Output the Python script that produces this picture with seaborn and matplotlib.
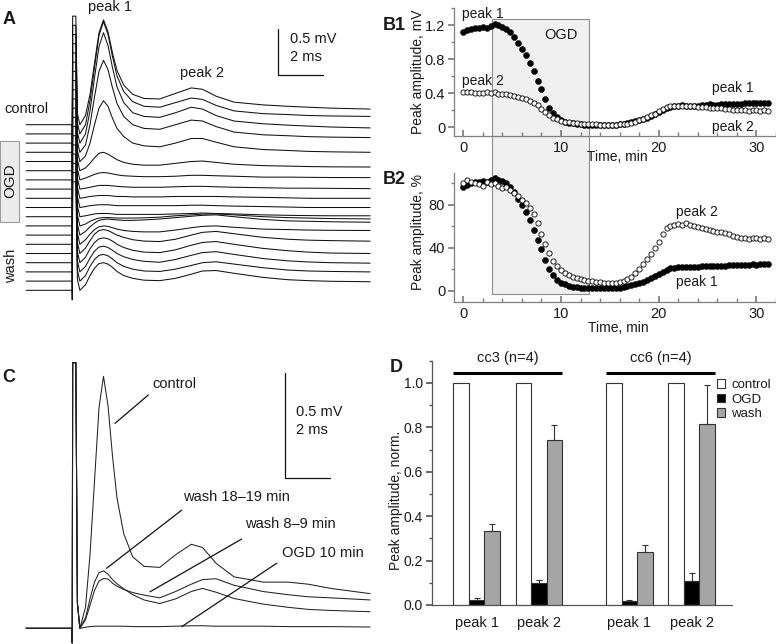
import numpy as np
import pandas as pd
import matplotlib
matplotlib.use('Agg')
import matplotlib.pyplot as plt
from matplotlib.patches import Rectangle, Patch
from matplotlib.ticker import MultipleLocator
import seaborn as sns

sns.set_theme(style='white')
plt.rcParams['font.family'] = ['Liberation Sans', 'DejaVu Sans']
for k in ['text.color', 'axes.labelcolor', 'xtick.color', 'ytick.color']:
    plt.rcParams[k] = '#1a1a1a'

W, H = 776, 644

# ---- traces (A, C): time in ms, voltage in mV relative to own baseline ----
t_pre = [-2.04, 0.0]
t_art = [0.01, 0.03, 0.17, 0.24]
art_a = [-0.105, 1.18, 1.18, 0.12]
art_c = [-0.07, 1.265, 1.265, 0.12]
t_resp = [0.35, 0.6, 0.8, 1.0, 1.2, 1.4, 1.6, 1.8, 2.0, 2.3, 2.7, 3.2,
          3.9, 4.6, 5.3, 5.8, 6.4, 7.2, 8.5, 9.6, 10.5, 11.5, 13.25]

# panel A, top (control) to bottom (wash), one row per sweep
traces_a = [
    [0, 0.1, 0.33, 0.67, 1.0, 1.14, 1.01, 0.78, 0.59, 0.43, 0.33, 0.285, 0.28, 0.34, 0.40, 0.385, 0.31, 0.245, 0.215, 0.2, 0.19, 0.18, 0.17],
    [0, 0.1, 0.36, 0.72, 1.07, 1.22, 1.08, 0.84, 0.63, 0.46, 0.35, 0.3, 0.29, 0.34, 0.39, 0.375, 0.31, 0.25, 0.22, 0.21, 0.2, 0.195, 0.19],
    [0, 0.1, 0.35, 0.71, 1.05, 1.2, 1.06, 0.82, 0.61, 0.44, 0.33, 0.29, 0.28, 0.33, 0.39, 0.37, 0.3, 0.24, 0.21, 0.195, 0.185, 0.175, 0.165],
    [0, 0.08, 0.3, 0.6, 0.88, 1.0, 0.9, 0.7, 0.53, 0.39, 0.3, 0.26, 0.25, 0.3, 0.35, 0.34, 0.28, 0.22, 0.19, 0.18, 0.17, 0.165, 0.16],
    [0, 0.06, 0.2, 0.4, 0.58, 0.66, 0.6, 0.47, 0.36, 0.27, 0.2, 0.17, 0.16, 0.2, 0.25, 0.25, 0.21, 0.16, 0.13, 0.12, 0.11, 0.105, 0.1],
    [0, 0.03, 0.08, 0.14, 0.19, 0.2, 0.18, 0.15, 0.12, 0.09, 0.07, 0.06, 0.06, 0.08, 0.1, 0.105, 0.09, 0.07, 0.055, 0.05, 0.045, 0.042, 0.04],
    [0, 0.02, 0.04, 0.06, 0.075, 0.08, 0.075, 0.065, 0.055, 0.045, 0.04, 0.035, 0.035, 0.04, 0.05, 0.05, 0.045, 0.04, 0.03, 0.03, 0.028, 0.026, 0.025],
    [0, 0.01, 0.02, 0.03, 0.04, 0.04, 0.04, 0.035, 0.03, 0.025, 0.02, 0.02, 0.02, 0.025, 0.03, 0.03, 0.025, 0.02, 0.015, 0.01, 0.01, 0.008, 0.005],
    [0, 0.01, 0.02, 0.025, 0.03, 0.03, 0.03, 0.025, 0.02, 0.02, 0.015, 0.015, 0.015, 0.02, 0.02, 0.02, 0.02, 0.015, 0.01, 0.005, 0.0, 0.0, 0.0],
    [0, 0.01, 0.02, 0.025, 0.03, 0.03, 0.03, 0.025, 0.02, 0.02, 0.02, 0.02, 0.02, 0.02, 0.025, 0.025, 0.02, 0.015, 0.01, 0.005, 0.0, 0.0, 0.0],
    [0, 0.01, 0.02, 0.03, 0.035, 0.035, 0.035, 0.03, 0.025, 0.025, 0.025, 0.025, 0.025, 0.03, 0.035, 0.04, 0.035, 0.03, 0.02, 0.015, 0.012, 0.01, 0.01],
    [0, 0.02, 0.05, 0.07, 0.085, 0.09, 0.09, 0.088, 0.085, 0.085, 0.085, 0.088, 0.095, 0.11, 0.12, 0.128, 0.13, 0.12, 0.1, 0.09, 0.085, 0.08, 0.076],
    [0, 0.04, 0.09, 0.13, 0.16, 0.17, 0.175, 0.17, 0.165, 0.16, 0.16, 0.165, 0.175, 0.19, 0.205, 0.215, 0.22, 0.2, 0.17, 0.155, 0.15, 0.145, 0.14],
    [0, 0.05, 0.11, 0.16, 0.19, 0.2, 0.195, 0.18, 0.165, 0.15, 0.14, 0.135, 0.135, 0.155, 0.18, 0.195, 0.2, 0.185, 0.165, 0.16, 0.155, 0.152, 0.15],
    [0, 0.06, 0.14, 0.21, 0.25, 0.26, 0.25, 0.225, 0.2, 0.175, 0.15, 0.135, 0.13, 0.155, 0.2, 0.23, 0.24, 0.215, 0.175, 0.155, 0.145, 0.14, 0.134],
    [0, 0.06, 0.15, 0.22, 0.26, 0.27, 0.26, 0.235, 0.2, 0.165, 0.135, 0.115, 0.11, 0.14, 0.19, 0.22, 0.23, 0.2, 0.155, 0.13, 0.115, 0.105, 0.1],
    [0, 0.06, 0.15, 0.225, 0.27, 0.28, 0.265, 0.235, 0.2, 0.165, 0.135, 0.115, 0.105, 0.135, 0.18, 0.21, 0.22, 0.19, 0.145, 0.12, 0.108, 0.1, 0.095],
    [0, 0.06, 0.16, 0.235, 0.28, 0.29, 0.275, 0.24, 0.2, 0.16, 0.13, 0.11, 0.105, 0.13, 0.17, 0.2, 0.21, 0.185, 0.145, 0.12, 0.11, 0.105, 0.1],
    [0, 0.06, 0.16, 0.24, 0.29, 0.30, 0.285, 0.25, 0.205, 0.16, 0.13, 0.11, 0.105, 0.13, 0.175, 0.21, 0.215, 0.185, 0.14, 0.115, 0.105, 0.098, 0.093],
]
sweep_step = 0.1  # mV between stacked sweeps

# panel C
c_control = [0.0, 0.1, 0.35, 0.7, 1.05, 1.2, 1.06, 0.82, 0.62, 0.45, 0.34, 0.295, 0.29, 0.35, 0.40, 0.385, 0.31, 0.245, 0.22, 0.22, 0.21, 0.19, 0.165]
c_wash89 = [0.0, 0.04, 0.11, 0.18, 0.225, 0.237, 0.235, 0.215, 0.2, 0.185, 0.17, 0.158, 0.145, 0.175, 0.21, 0.232, 0.236, 0.205, 0.175, 0.16, 0.15, 0.145, 0.135]
c_wash1819 = [0.0, 0.05, 0.14, 0.22, 0.265, 0.274, 0.258, 0.232, 0.212, 0.188, 0.16, 0.135, 0.118, 0.14, 0.175, 0.19, 0.172, 0.142, 0.115, 0.1, 0.09, 0.085, 0.079]
c_ogd10 = [0.0, 0.005, 0.008, 0.01, 0.01, 0.01, 0.01, 0.01, 0.01, 0.01, 0.008, 0.008, 0.008, 0.01, 0.012, 0.012, 0.01, 0.01, 0.01, 0.008, 0.008, 0.008, 0.006]

# ---- time course (B1, B2) ----
time_min = [0.0, 0.4, 0.8, 1.2, 1.6, 2.0, 2.4, 2.8, 3.2, 3.6, 4.0, 4.4, 4.8, 5.2, 5.6, 6.0,
            6.4, 6.8, 7.2, 7.6, 8.0, 8.4, 8.8, 9.2, 9.6, 10.0, 10.4, 10.8, 11.2, 11.6, 12.0,
            12.4, 12.8, 13.2, 13.6, 14.0, 14.4, 14.8, 15.2, 15.6, 16.0, 16.4, 16.8, 17.2,
            17.6, 18.0, 18.4, 18.8, 19.2, 19.6, 20.0, 20.4, 20.8, 21.2, 21.6, 22.0, 22.4,
            22.8, 23.2, 23.6, 24.0, 24.4, 24.8, 25.2, 25.6, 26.0, 26.4, 26.8, 27.2, 27.6,
            28.0, 28.4, 28.8, 29.2, 29.6, 30.0, 30.4, 30.8, 31.2]
peak1_mv = [1.12, 1.14, 1.16, 1.17, 1.17, 1.18, 1.17, 1.19, 1.22, 1.20, 1.18, 1.16, 1.12, 1.06,
            0.99, 0.92, 0.85, 0.76, 0.66, 0.55, 0.45, 0.33, 0.23, 0.165, 0.12, 0.088, 0.068,
            0.055, 0.045, 0.038, 0.033, 0.030, 0.029, 0.028, 0.030, 0.027, 0.029, 0.028, 0.030,
            0.031, 0.034, 0.040, 0.048, 0.058, 0.070, 0.083, 0.098, 0.115, 0.135, 0.158, 0.182,
            0.205, 0.226, 0.240, 0.250, 0.256, 0.258, 0.256, 0.254, 0.252, 0.256, 0.262, 0.268,
            0.272, 0.268, 0.266, 0.271, 0.270, 0.274, 0.277, 0.279, 0.275, 0.280, 0.282, 0.284,
            0.280, 0.285, 0.287, 0.289]
peak2_mv = [0.410, 0.420, 0.414, 0.409, 0.404, 0.398, 0.411, 0.405, 0.410, 0.396, 0.390, 0.394,
            0.382, 0.372, 0.358, 0.345, 0.332, 0.315, 0.290, 0.258, 0.215, 0.178, 0.142, 0.114,
            0.092, 0.077, 0.066, 0.058, 0.051, 0.047, 0.043, 0.040, 0.038, 0.036, 0.034, 0.032,
            0.030, 0.028, 0.029, 0.030, 0.033, 0.037, 0.043, 0.051, 0.066, 0.084, 0.101, 0.120,
            0.140, 0.161, 0.186, 0.214, 0.237, 0.246, 0.251, 0.255, 0.251, 0.256, 0.249, 0.246,
            0.240, 0.238, 0.235, 0.229, 0.226, 0.224, 0.222, 0.218, 0.214, 0.208, 0.204, 0.199,
            0.201, 0.196, 0.199, 0.201, 0.197, 0.200, 0.197]
ogd_start, ogd_end = 2.9, 12.85
n_baseline = 8  # points used for normalisation (first ~3 min)

# ---- summary (D) ----
group_labels = ['peak 1', 'peak 2', 'peak 1', 'peak 2']
cell_labels = ['cc3 (n=4)', 'cc6 (n=4)']
conditions = ['control', 'OGD', 'wash']
control_mean = [1.0, 1.0, 1.0, 1.0]
ogd_mean = [0.023, 0.100, 0.018, 0.108]
ogd_sem = [0.007, 0.013, 0.003, 0.038]
wash_mean = [0.331, 0.744, 0.240, 0.815]
wash_sem = [0.033, 0.068, 0.030, 0.176]


fig = plt.figure(figsize=(W / 100, H / 100), dpi=100)


def box(x0, y0, x1, y1):
    return [x0 / W, 1 - y1 / H, (x1 - x0) / W, (y1 - y0) / H]


def label(px, py, s, **kw):
    kw.setdefault('fontsize', 10.5)
    kw.setdefault('va', 'center')
    fig.text(px / W, 1 - py / H, s, **kw)


def trace_frame(rows, art, step):
    t = t_pre + t_art + t_resp
    recs = []
    for k, row in enumerate(rows):
        base = (len(rows) - 1 - k) * step
        v = [0.0, 0.0] + art + list(row)
        recs += [(k, ti, vi + base) for ti, vi in zip(t, v)]
    return pd.DataFrame(recs, columns=['trace', 't', 'v'])


# ---------------- A ----------------
axA = fig.add_axes(box(0, 0, 390, 330))
df_a = trace_frame(traces_a, art_a, sweep_step)
sns.lineplot(data=df_a, x='t', y='v', units='trace', estimator=None, sort=False,
             color='#111111', lw=0.75, ax=axA)
axA.set_xlim(-3.2, 14.133)
axA.set_ylim(-0.4315, 3.1554)
axA.axis('off')
axA.plot([9.16, 9.16, 11.16], [2.84, 2.34, 2.34], color='#111111', lw=0.9)

label(9, 19, 'A', fontsize=13, fontweight='bold', ha='center')
label(110, 7.5, 'peak 1', ha='center')
label(202, 73, 'peak 2', ha='center')
label(290, 39, '0.5 mV')
label(290, 57, '2 ms')
label(4, 109, 'control')
fig.add_artist(Rectangle((0, 1 - 221.7 / H), 19.3 / W, 81 / H, transform=fig.transFigure,
                         fc='#ececec', ec='#9a9a9a', lw=0.8))
label(10, 181, 'OGD', rotation=90, ha='center', fontsize=11)
label(11, 266, 'wash', rotation=90, ha='center')

# ---------------- C ----------------
axC = fig.add_axes(box(0, 340, 390, 644))
df_c = trace_frame([c_control, c_wash89, c_wash1819, c_ogd10], art_c, 0.0)
sns.lineplot(data=df_c, x='t', y='v', units='trace', estimator=None, sort=False,
             color='#222222', lw=0.75, ax=axC)
axC.set_xlim(-3.2, 14.133)
axC.set_ylim(-0.0748, 1.373)
axC.axis('off')
axC.plot([9.47, 9.47, 11.47], [1.217, 0.717, 0.717], color='#111111', lw=0.9)
pointers = [((3.39, 1.111), (1.91, 0.976)),
            ((4.88, 0.563), (1.54, 0.286)),
            ((7.54, 0.425), (3.47, 0.174)),
            ((9.10, 0.310), (4.88, 0.008))]
for (x0, y0), (x1, y1) in pointers:
    axC.plot([x0, x1], [y0, y1], color='#111111', lw=0.9)

label(9, 377, 'C', fontsize=13, fontweight='bold', ha='center')
label(296, 412, '0.5 mV')
label(296, 430, '2 ms')
label(152, 384, 'control')
label(183, 497, 'wash 18\u201319 min')
label(245, 524, 'wash 8\u20139 min')
label(282, 553, 'OGD 10 min')

# ---------------- B1 / B2 ----------------
spine_col = '#7f7f7f'


def style_b(ax):
    sns.despine(ax=ax)
    for s in ['left', 'bottom']:
        ax.spines[s].set_color(spine_col)
        ax.spines[s].set_linewidth(0.9)
    ax.set_xlim(-1, 32)
    ax.set_xticks([0, 10, 20, 30])
    ax.xaxis.set_minor_locator(MultipleLocator(2))
    ax.tick_params(axis='x', which='both', direction='in', bottom=True, color=spine_col,
                   labelsize=10.5, pad=4)
    ax.tick_params(axis='x', which='major', length=4)
    ax.tick_params(axis='x', which='minor', length=3)
    ax.tick_params(axis='y', which='both', direction='out', left=True, color=spine_col,
                   labelsize=10.5, pad=2)
    ax.tick_params(axis='y', which='major', length=4)
    ax.tick_params(axis='y', which='minor', length=2.5)
    ax.set_xlabel('')
    ax.set_ylabel('')


axB1 = fig.add_axes(box(453.5, 8.3, 776, 135.8))
axB1.add_patch(Rectangle((ogd_start, -1.965), ogd_end - ogd_start, 1.27 + 1.965,
                         fc='#f0f0f0', ec='#8c8c8c', lw=0.8, clip_on=False, zorder=0.5))
sns.scatterplot(x=time_min, y=peak1_mv, color='black', s=19, edgecolor='black',
                linewidth=0.3, ax=axB1, zorder=3)
sns.scatterplot(x=time_min, y=peak2_mv, color='white', s=14, edgecolor='black',
                linewidth=0.6, ax=axB1, zorder=4)
axB1.set_ylim(-0.1, 1.4)
style_b(axB1)
axB1.set_yticks([0, 0.4, 0.8, 1.2], ['0', '0.4', '0.8', '1.2'])
axB1.yaxis.set_minor_locator(MultipleLocator(0.2))

peak1_pct = np.array(peak1_mv) / np.mean(peak1_mv[:n_baseline]) * 100
peak2_pct = np.array(peak2_mv) / np.mean(peak2_mv[:n_baseline]) * 100
axB2 = fig.add_axes(box(453.5, 173.3, 776, 301.5))
axB2.set_facecolor('none')
sns.scatterplot(x=time_min, y=peak1_pct, color='black', s=19, edgecolor='black',
                linewidth=0.3, ax=axB2, zorder=3)
sns.scatterplot(x=time_min, y=peak2_pct, color='white', s=14, edgecolor='black',
                linewidth=0.6, ax=axB2, zorder=4)
axB2.set_ylim(-10, 109)
style_b(axB2)
axB2.set_yticks([0, 40, 80])
axB2.yaxis.set_minor_locator(MultipleLocator(20))

label(406, 25, 'B1', fontsize=13, fontweight='bold', ha='right')
label(406, 180, 'B2', fontsize=13, fontweight='bold', ha='right')
label(418, 72, 'Peak amplitude, mV', rotation=90, ha='center', fontsize=10)
label(418, 232, 'Peak amplitude, %', rotation=90, ha='center', fontsize=10)
label(617, 157, 'Time, min', ha='center', fontsize=10)
label(618, 328, 'Time, min', ha='center', fontsize=10)
label(483, 14, 'peak 1', ha='center', fontsize=10)
label(483, 81, 'peak 2', ha='center', fontsize=10)
label(561, 35, 'OGD', ha='center', fontsize=10.5)
label(733, 88, 'peak 1', ha='center', fontsize=10)
label(733, 127, 'peak 2', ha='center', fontsize=10)
label(697, 212, 'peak 2', ha='center', fontsize=10)
label(697, 282, 'peak 1', ha='center', fontsize=10)

# ---------------- D ----------------
group_pos = [0.0, 1.0, 2.46, 3.46]
bar_w = 0.25
df_d = pd.DataFrame({
    'pos': group_pos * 3,
    'cond': [c for c in conditions for _ in group_pos],
    'val': control_mean + ogd_mean + wash_mean,
})
axD = fig.add_axes(box(431.7, 360.7, 731.7, 605))
pal = {'control': 'white', 'OGD': 'black', 'wash': '#a6a6a6'}
sns.barplot(data=df_d, x='pos', y='val', hue='cond', hue_order=conditions, palette=pal,
            native_scale=True, width=0.75, saturation=1, errorbar=None, legend=False,
            edgecolor='#333333', linewidth=0.8, ax=axD)
for j, (m, e) in enumerate([(ogd_mean, ogd_sem), (wash_mean, wash_sem)], start=1):
    xs = [p + (j - 1) * bar_w for p in group_pos]
    axD.errorbar(xs, m, yerr=[np.zeros(len(e)), e], fmt='none', ecolor='#333333',
                 elinewidth=0.8, capsize=2, capthick=0.8, zorder=3)
axD.set_xlim(-0.725, 4.106)
axD.set_ylim(0, 1.1)
sns.despine(ax=axD)
for s in ['left', 'bottom']:
    axD.spines[s].set_color('#555555')
    axD.spines[s].set_linewidth(0.9)
axD.set_yticks(np.arange(0, 1.01, 0.2), [f'{v:.1f}' for v in np.arange(0, 1.01, 0.2)])
axD.yaxis.set_minor_locator(MultipleLocator(0.1))
axD.tick_params(axis='y', which='both', direction='out', left=True, color='#555555',
                labelsize=10, pad=2.5)
axD.tick_params(axis='y', which='major', length=4)
axD.tick_params(axis='y', which='minor', length=2.5)
axD.set_xticks(group_pos, group_labels)
axD.tick_params(axis='x', length=0, labelsize=10.5, pad=8)
axD.set_xlabel('')
axD.set_ylabel('')
for k, name in enumerate(cell_labels):
    x0 = group_pos[2 * k] - 1.5 * bar_w
    x1 = group_pos[2 * k + 1] + 1.5 * bar_w
    axD.plot([x0, x1], [1.045, 1.045], color='black', lw=2.2, clip_on=False,
             solid_capstyle='butt')
    axD.text((x0 + x1) / 2, 1.113, name, ha='center', va='center', fontsize=10.5,
             clip_on=False)

handles = [Patch(fc=pal[c], ec='#333333', lw=0.8, label=c) for c in conditions]
fig.legend(handles=handles, loc='upper left', bbox_to_anchor=(717 / W, 1 - 379 / H),
           frameon=False, fontsize=9.5, handlelength=0.6, handleheight=0.6,
           handletextpad=0.5, labelspacing=0.2, borderpad=0, borderaxespad=0)

label(396, 500, 'Peak amplitude, norm.', rotation=90, ha='center', fontsize=10)
label(396, 367, 'D', fontsize=13, fontweight='bold', ha='center')

fig.savefig('out.png', dpi=100)
